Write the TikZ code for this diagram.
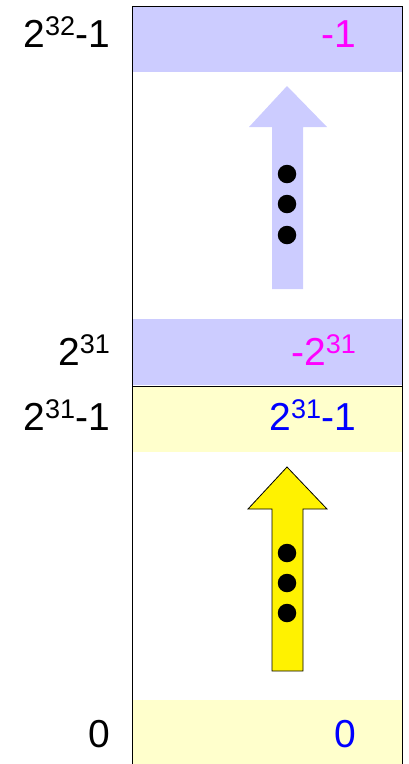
\documentclass[tikz,border=0pt]{standalone}
\usepackage{fontspec}
\setmainfont{Liberation Sans}
\definecolor{lav}{HTML}{CCCCFF}
\definecolor{pale}{HTML}{FFFFCC}
\definecolor{mag}{HTML}{FF00FF}
\definecolor{blu}{HTML}{0000FF}
\newcommand{\pw}[1]{2\raisebox{12pt}{\fontsize{27}{27}\selectfont #1}}
\begin{document}
\begin{tikzpicture}[x=1pt,y=-1pt,
  lbl/.style={inner sep=0pt,anchor=base east,font=\fontsize{39}{39}\selectfont},
  dot/.style={fill=black,circle,inner sep=0pt,minimum size=18.5pt}]
\useasboundingbox (0,0) rectangle (408,764);
% coloured bands
\fill[lav] (132,6) rectangle (402,72);
\fill[lav] (132,319) rectangle (402,385);
\fill[pale] (132,386) rectangle (402,452);
\fill[pale] (132,700) rectangle (402,764);
% frame and divider
\draw[line width=1pt] (132.5,770) -- (132.5,6) -- (402.5,6) -- (402.5,770);
\draw[line width=1pt] (132,386) -- (402,386);
% upward arrows
\fill[lav] (287,86) -- (327,127) -- (303,127) -- (303,289) -- (272,289)
  -- (272,127) -- (249,127) -- cycle;
\filldraw[fill=yellow,draw=black,line width=0.8pt] (287,467) -- (327,509)
  -- (303,509) -- (303,671) -- (272,671) -- (272,509) -- (248,509) -- cycle;
% dots
\node[dot] (d1) at (287,174) {};
\node[dot] (d2) at (287,204) {};
\node[dot] (d3) at (287,235) {};
\node[dot] (e1) at (287,553) {};
\node[dot] (e2) at (287,583) {};
\node[dot] (e3) at (287,613) {};
% labels
\node[lbl] (a1) at (110,47) {\pw{32}-1};
\node[lbl,text=mag] (b1) at (356,47) {-1};
\node[lbl] (a2) at (110,365) {\pw{31}};
\node[lbl,text=mag] (b2) at (356,365) {-\pw{31}};
\node[lbl] (a3) at (110,430) {\pw{31}-1};
\node[lbl,text=blu] (b3) at (356,430) {\pw{31}-1};
\node[lbl] (a4) at (110,747) {0};
\node[lbl,text=blu] (b4) at (356,747) {0};
\end{tikzpicture}
\end{document}
